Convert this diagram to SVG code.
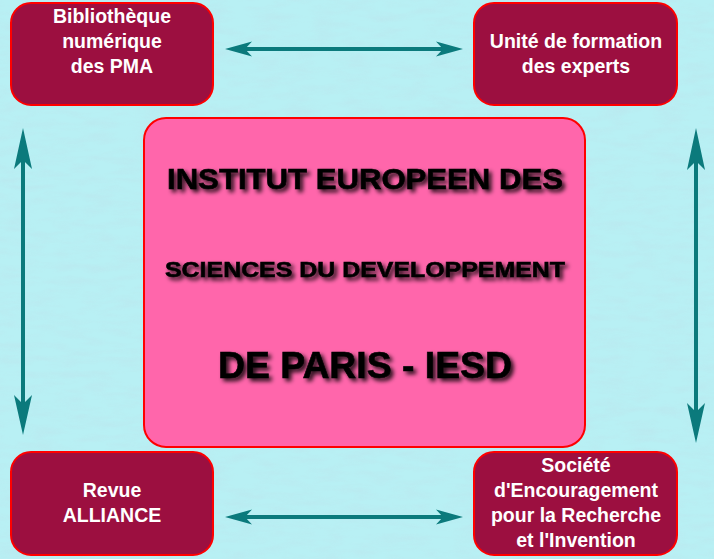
<svg xmlns="http://www.w3.org/2000/svg" width="714" height="559" viewBox="0 0 714 559">
<defs>
<style>
.node rect{fill:#9c0f40;stroke:#ff0000;stroke-width:2}
.node text{fill:#ffffff;font-family:"Liberation Sans",Arial,sans-serif;font-weight:bold;font-size:19.5px;text-anchor:middle}
.center rect{fill:#ff66ab;stroke:#ff0000;stroke-width:2}
.center text{fill:#000000;stroke:#000000;stroke-width:0.6;font-family:"Liberation Sans",Arial,sans-serif;font-weight:bold;text-anchor:middle;filter:url(#shadow)}
.conn line{stroke:#0b7a7c;stroke-width:4}
.conn path{fill:#0b7a7c}
</style>
<filter id="shadow" x="-10%" y="-30%" width="120%" height="170%">
<feDropShadow dx="3" dy="3" stdDeviation="2.2" flood-color="#000" flood-opacity="0.85"/>
</filter>
<filter id="tex" x="0" y="0" width="100%" height="100%">
<feTurbulence type="fractalNoise" baseFrequency="0.035 0.14" numOctaves="3" seed="4"/>
<feColorMatrix type="matrix" values="0 0 0 0 0.5  0 0 0 0 0.78  0 0 0 0 0.84  0 0 0 1.6 -0.6"/>
</filter>
</defs>
<rect width="714" height="559" fill="#b8f0f4"/>
<rect width="714" height="559" filter="url(#tex)" opacity="0.6"/>

<g id="connectors" class="conn">
<line x1="240" y1="49" x2="448" y2="49"/>
<path d="M225,49 L252,41.5 L245,49 L252,56.5 Z"/>
<path d="M463,49 L436,41.5 L443,49 L436,56.5 Z"/>
<line x1="240" y1="517" x2="448" y2="517"/>
<path d="M225,517 L252,509.5 L245,517 L252,524.5 Z"/>
<path d="M463,517 L436,509.5 L443,517 L436,524.5 Z"/>
<line x1="23" y1="145" x2="23" y2="418"/>
<path d="M23,128 L32,169 L23,160 L14,169 Z"/>
<path d="M23,435 L32,395 L23,404 L14,395 Z"/>
<line x1="696" y1="145" x2="696" y2="426"/>
<path d="M696,128 L705,170 L696,161 L687,170 Z"/>
<path d="M696,443 L705,403 L696,412 L687,403 Z"/>
</g>

<g id="node-bibliotheque" class="node">
<rect x="11" y="3" width="202" height="102" rx="20"/>
<text x="112" y="23">Bibliothèque</text>
<text x="112" y="48">numérique</text>
<text x="112" y="73">des PMA</text>
</g>

<g id="node-unite" class="node">
<rect x="474" y="3" width="203" height="102" rx="20"/>
<text x="576" y="48">Unité de formation</text>
<text x="576" y="73">des experts</text>
</g>

<g id="node-iesd" class="center">
<rect x="144" y="118" width="441" height="329" rx="22"/>
<text x="365" y="189" font-size="29" textLength="396" lengthAdjust="spacingAndGlyphs">INSTITUT EUROPEEN DES</text>
<text x="365" y="277" font-size="21.5" textLength="400" lengthAdjust="spacingAndGlyphs">SCIENCES DU DEVELOPPEMENT</text>
<text x="365" y="378" font-size="36" textLength="294" lengthAdjust="spacingAndGlyphs">DE PARIS - IESD</text>
</g>

<g id="node-revue" class="node">
<rect x="11" y="452" width="202" height="103" rx="20"/>
<text x="112" y="497">Revue</text>
<text x="112" y="522">ALLIANCE</text>
</g>

<g id="node-societe" class="node">
<rect x="474" y="452" width="203" height="103" rx="20"/>
<text x="576" y="472">Société</text>
<text x="576" y="497">d'Encouragement</text>
<text x="576" y="522">pour la Recherche</text>
<text x="576" y="547">et l'Invention</text>
</g>
</svg>
